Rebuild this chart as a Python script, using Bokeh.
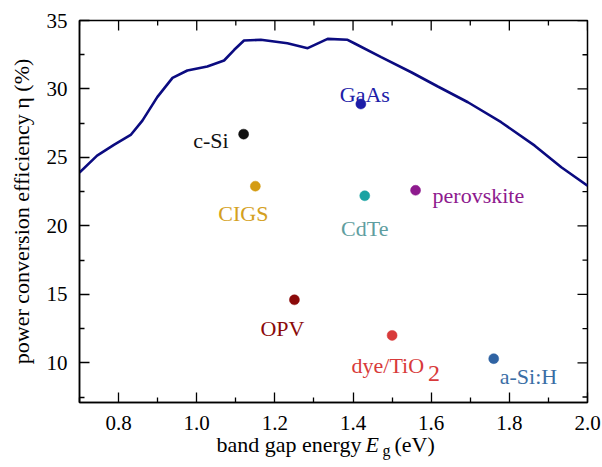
import math
from bokeh.plotting import figure
from bokeh.layouts import column
from bokeh.models import Label, FixedTicker, PrintfTickFormatter, ColumnDataSource
from bokeh.embed import file_html
from bokeh.resources import INLINE

# Shockley-Queisser style limit curve
sq_eg = [0.70, 0.745, 0.788, 0.831, 0.861, 0.899, 0.938, 0.976, 1.027, 1.07, 1.096,
         1.121, 1.164, 1.232, 1.284, 1.335, 1.386, 1.403, 1.472, 1.549, 1.617,
         1.694, 1.779, 1.865, 1.933, 2.0]
sq_eta = [23.9, 25.13, 25.91, 26.64, 27.69, 29.4, 30.81, 31.35, 31.64, 32.08, 32.86,
          33.54, 33.59, 33.34, 32.98, 33.66, 33.59, 33.34, 32.32, 31.22, 30.18,
          29.03, 27.57, 25.86, 24.28, 22.94]

# Record cells
materials = ["c-Si", "GaAs", "CIGS", "CdTe", "perovskite", "OPV", "dye/TiO", "a-Si:H"]
mat_eg = [1.12, 1.42, 1.15, 1.43, 1.56, 1.25, 1.50, 1.76]
mat_eta = [26.7, 28.9, 22.9, 22.2, 22.6, 14.6, 12.0, 10.3]
dot_colors = ["#111111", "#1c1ca8", "#d49c14", "#1aa3a3", "#8e1a8e", "#8b0a0a", "#d83a3a", "#2f63a3"]
text_colors = ["#111111", "#2020a8", "#d4a020", "#5f9ea0", "#8e1a8e", "#8b0a0a", "#d83a3a", "#3a6ea5"]

x_ticks = [0.8, 1.0, 1.2, 1.4, 1.6, 1.8, 2.0]
x_minor = [0.7, 0.9, 1.1, 1.3, 1.5, 1.7, 1.9]
y_ticks = [10, 15, 20, 25, 30, 35]
y_minor = [7.5, 12.5, 17.5, 22.5, 27.5, 32.5]

X0, X1 = 0.7, 2.0
Y0, Y1 = 7.1, 35
W, H = 602, 467

FONT = "Liberation Serif"

p = figure(width=W, height=H, x_range=(X0, X1), y_range=(Y0, Y1),
           output_backend="svg", toolbar_location=None,
           min_border_left=79, min_border_right=15, min_border_top=20, min_border_bottom=65)
p.grid.visible = False
p.outline_line_color = "black"
p.outline_line_width = 1.5
p.background_fill_color = "white"
p.border_fill_color = "white"

for ax, ticks, minor, fmt, standoff in ((p.xaxis[0], x_ticks, x_minor, "%.1f", 13),
                                        (p.yaxis[0], y_ticks, y_minor, "%d", 12)):
    ax.ticker = FixedTicker(ticks=ticks, minor_ticks=minor)
    ax.formatter = PrintfTickFormatter(format=fmt)
    ax.major_tick_in = 10
    ax.major_tick_out = 0
    ax.minor_tick_in = 5
    ax.minor_tick_out = 0
    ax.axis_line_width = 1.5
    ax.major_tick_line_width = 1.3
    ax.minor_tick_line_width = 1.3
    ax.axis_line_color = "black"
    ax.major_tick_line_color = "black"
    ax.minor_tick_line_color = "black"
    ax.major_label_text_font = FONT
    ax.major_label_text_font_size = "21px"
    ax.major_label_text_color = "black"
    ax.major_label_standoff = standoff

yax = p.yaxis[0]
yax.axis_label = "power conversion efficiency η (%)"
yax.axis_label_text_font = FONT
yax.axis_label_text_font_size = "22px"
yax.axis_label_text_font_style = "normal"
yax.axis_label_text_color = "black"
yax.axis_label_standoff = 10

# mirrored inward ticks on the top and right frame edges
tick_style = dict(line_color="black", line_width=1.3, length_units="screen")
p.ray(x=x_ticks, y=[Y1] * len(x_ticks), length=10, angle=-math.pi / 2, **tick_style)
p.ray(x=x_minor, y=[Y1] * len(x_minor), length=5, angle=-math.pi / 2, **tick_style)
p.ray(x=[X1] * len(y_ticks), y=y_ticks, length=10, angle=math.pi, **tick_style)
p.ray(x=[X1] * len(y_minor), y=y_minor, length=5, angle=math.pi, **tick_style)

p.line(sq_eg, sq_eta, line_color="#0b0b80", line_width=2.6)

src = ColumnDataSource(dict(x=mat_eg, y=mat_eta, c=dot_colors))
p.scatter("x", "y", source=src, size=10, fill_color="c", line_color="c", line_width=0.5)

# label offsets (pixels) relative to each point: (align, dx, dy)
offsets = {
    "c-Si": ("right", -15, -6),
    "GaAs": ("center", 4, 10),
    "CIGS": ("center", -12, -27),
    "CdTe": ("center", 0, -33),
    "perovskite": ("left", 17, -5),
    "OPV": ("center", -12, -29),
    "dye/TiO": ("right", 32, -30),
    "a-Si:H": ("left", 6, -18),
}
LBL = "22px"
for name, ex, ey, tc in zip(materials, mat_eg, mat_eta, text_colors):
    al, dx, dy = offsets[name]
    p.add_layout(Label(x=ex, y=ey, text=name, x_offset=dx, y_offset=dy, text_align=al,
                       text_baseline="alphabetic", text_font=FONT, text_font_size=LBL,
                       text_color=tc))
    if name == "dye/TiO":
        p.add_layout(Label(x=ex, y=ey, text="2", x_offset=36, y_offset=-38, text_align="left",
                           text_baseline="alphabetic", text_font=FONT, text_font_size="24px",
                           text_color=tc))

# transparent overlay figure (pulled up over the chart) that carries the x-axis title
ov = figure(width=W, height=H, x_range=(0, 1), y_range=(0, 1),
            output_backend="svg", toolbar_location=None,
            x_axis_location=None, y_axis_location=None,
            min_border=0, min_border_left=0, min_border_right=0,
            min_border_top=0, min_border_bottom=0)
ov.grid.visible = False
ov.outline_line_color = None
ov.background_fill_alpha = 0
ov.border_fill_alpha = 0
ov.margin = (-H, 0, 0, 0)

def tlabel(text, sx, sy, align="left", style="normal", size="22px", angle=0):
    ov.add_layout(Label(x=sx, y=sy, x_units="screen", y_units="screen", text=text,
                        text_align=align, text_baseline="alphabetic", text_font=FONT,
                        text_font_size=size, text_font_style=style, text_color="black",
                        angle=angle))

tlabel("band gap energy", 282, 23, align="right")
tlabel("E", 286, 23, style="italic")
tlabel("g", 303, 17, size="16px")
tlabel("(eV)", 315, 23)

layout = column(p, ov, spacing=0)
open("out.html", "w").write(file_html(layout, INLINE))
